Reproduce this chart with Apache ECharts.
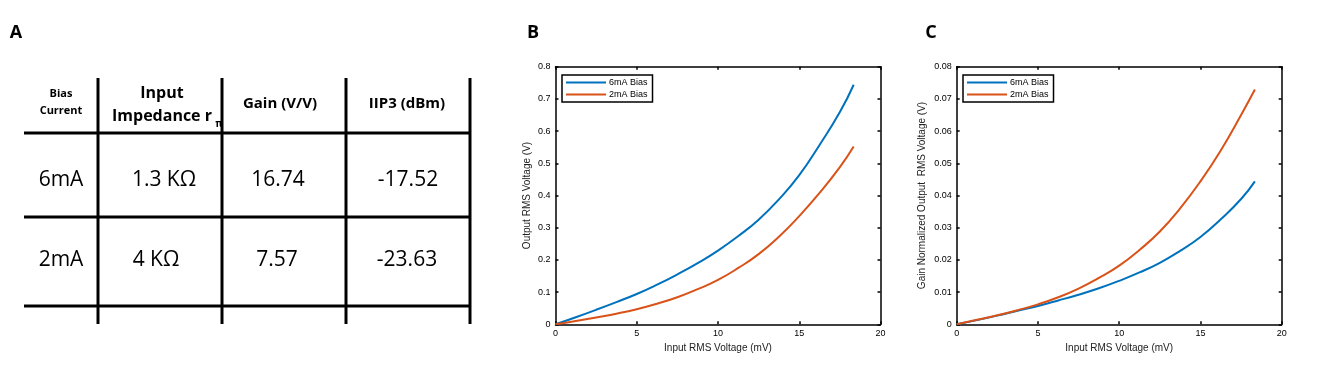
<!DOCTYPE html>
<html>
<head>
<meta charset="utf-8">
<script src="https://cdn.jsdelivr.net/npm/echarts@6/dist/echarts.min.js"></script>
<style>
html, body { margin: 0; padding: 0; background: #fff; }
#fig { width: 1318px; height: 374px; }
</style>
</head>
<body>
<div id="fig"></div>
<script>
// table A
var biasCurrents = ['6mA', '2mA'];
var impedances = ['1.3 KΩ', '4 KΩ'];
var gains = ['16.74', '7.57'];
var iip3 = ['-17.52', '-23.63'];

// curves B and C (input in mV)
var inputMv = [0, 1.25, 2.5, 3.75, 5, 6.25, 7.5, 8.75, 10, 11.25, 12.5, 13.75, 15, 16.25, 17.5, 18.35];
var out6mA = [0, 0.022, 0.045, 0.069, 0.094, 0.123, 0.155, 0.19, 0.229, 0.274, 0.325, 0.388, 0.463, 0.557, 0.659, 0.744];
var out2mA = [0, 0.010, 0.021, 0.033, 0.047, 0.064, 0.084, 0.109, 0.138, 0.175, 0.218, 0.272, 0.336, 0.408, 0.488, 0.552];
var norm6mA = [0, 0.0013, 0.0027, 0.0042, 0.0057, 0.0074, 0.0092, 0.0112, 0.0135, 0.0161, 0.0191, 0.0228, 0.0271, 0.0326, 0.0389, 0.0444];
var norm2mA = [0, 0.0014, 0.0028, 0.0044, 0.0062, 0.0084, 0.0111, 0.0144, 0.0182, 0.0231, 0.0288, 0.036, 0.0444, 0.054, 0.065, 0.0729];

var BLUE = '#0072BD';
var ORANGE = '#D95319';
var FONT = 'Liberation Sans';
var TFONT = 'Open Sans';

function pairs(ys) {
    var out = [];
    for (var i = 0; i < inputMv.length; i++) {
        out.push([inputMv[i], ys[i]]);
    }
    return out;
}

function xAxes(g, name) {
    return [{
        gridIndex: g, type: 'value', min: 0, max: 20, interval: 5,
        name: name, nameLocation: 'middle', nameGap: 18,
        nameTextStyle: { color: '#222', fontSize: 10, fontFamily: FONT },
        axisLine: { onZero: false, lineStyle: { color: '#000', width: 1.5 } },
        axisTick: { inside: true, length: 3, lineStyle: { color: '#000', width: 1.5 } },
        axisLabel: { margin: 5, color: '#000', fontSize: 9, fontFamily: FONT },
        splitLine: { show: false }
    }, {
        gridIndex: g, type: 'value', min: 0, max: 20, interval: 5, position: 'top',
        axisLine: { onZero: false, lineStyle: { color: '#000', width: 1.5 } },
        axisTick: { inside: true, length: 3, lineStyle: { color: '#000', width: 1.5 } },
        axisLabel: { show: false },
        splitLine: { show: false }
    }];
}

function yAxes(g, max, step, name, gap) {
    return [{
        gridIndex: g, type: 'value', min: 0, max: max, interval: step,
        name: name, nameLocation: 'middle', nameGap: gap,
        nameTextStyle: { color: '#222', fontSize: 10, fontFamily: FONT },
        axisLine: { show: true, onZero: false, lineStyle: { color: '#000', width: 1.5 } },
        axisTick: { show: true, inside: true, length: 3, lineStyle: { color: '#000', width: 1.5 } },
        axisLabel: { margin: 5, color: '#000', fontSize: 9, fontFamily: FONT },
        splitLine: { show: false }
    }, {
        gridIndex: g, type: 'value', min: 0, max: max, interval: step, position: 'right',
        axisLine: { show: true, onZero: false, lineStyle: { color: '#000', width: 1.5 } },
        axisTick: { show: true, inside: true, length: 3, lineStyle: { color: '#000', width: 1.5 } },
        axisLabel: { show: false },
        splitLine: { show: false }
    }];
}

function legendAt(left) {
    return {
        left: left, top: 75, orient: 'vertical',
        data: ['6mA Bias', '2mA Bias'],
        icon: 'rect',
        itemWidth: 40, itemHeight: 2, itemGap: 1,
        padding: [2, 5, 2, 4],
        borderColor: '#000', borderWidth: 1.5,
        backgroundColor: '#fff',
        textStyle: { fontSize: 9, lineHeight: 11, fontFamily: FONT, color: '#000', padding: [0, 0, 0, -2] }
    };
}

function lineSeries(name, color, xi, yi, ys) {
    return {
        name: name, type: 'line', xAxisIndex: xi, yAxisIndex: yi,
        data: pairs(ys), smooth: true, symbol: 'none', showSymbol: false,
        lineStyle: { color: color, width: 2 }, itemStyle: { color: color },
        silent: true, animation: false
    };
}

// table drawn with graphic elements
var tableGraphic = [];
var colX = [98, 222, 346, 470];
var rowY = [133, 217, 306];
colX.forEach(function (x) {
    tableGraphic.push({ type: 'line', shape: { x1: x, y1: 78, x2: x, y2: 324 }, style: { stroke: '#000', lineWidth: 3 } });
});
rowY.forEach(function (y) {
    tableGraphic.push({ type: 'line', shape: { x1: 24, y1: y, x2: 471, y2: y }, style: { stroke: '#000', lineWidth: 3 } });
});
function txt(s, x, y, size, weight) {
    return { type: 'text', x: x, y: y, style: { text: s, fontSize: size, fontWeight: weight || 'normal', fontFamily: TFONT, fill: '#000', align: 'center', verticalAlign: 'middle' } };
}
tableGraphic.push(txt('Bias', 61, 94, 11, 'bold'));
tableGraphic.push(txt('Current', 61, 111, 11, 'bold'));
tableGraphic.push(txt('Input', 162, 93, 16, 'bold'));
tableGraphic.push(txt('Impedance r', 162, 116, 16, 'bold'));
tableGraphic.push(txt('π', 219, 124, 10, 'bold'));
tableGraphic.push(txt('Gain (V/V)', 280, 104, 15, 'bold'));
tableGraphic.push(txt('IIP3 (dBm)', 407, 104, 15, 'bold'));
var rowMid = [180, 260];
var cellX = [[61, 164, 278, 408], [61, 156, 277, 407]];
for (var r = 0; r < 2; r++) {
    var cells = [biasCurrents[r], impedances[r], gains[r], iip3[r]];
    for (var c = 0; c < 4; c++) {
        tableGraphic.push(txt(cells[c], cellX[r][c], rowMid[r], 21));
    }
}
tableGraphic.push(txt('A', 16, 33, 18, 'bold'));
tableGraphic.push(txt('B', 533, 33, 18, 'bold'));
tableGraphic.push(txt('C', 931, 33, 18, 'bold'));

var chart = echarts.init(document.getElementById('fig'), null, { renderer: 'canvas' });
var option = {
    backgroundColor: '#fff',
    animation: false,
    grid: [
        { left: 555.5, top: 66.7, width: 325, height: 257.6 },
        { left: 956.7, top: 66.7, width: 325, height: 257.6 }
    ],
    legend: [legendAt(562), legendAt(963)],
    xAxis: xAxes(0, 'Input RMS Voltage (mV)').concat(xAxes(1, 'Input RMS Voltage (mV)')),
    yAxis: yAxes(0, 0.8, 0.1, 'Output RMS Voltage (V)', 23)
        .concat(yAxes(1, 0.08, 0.01, 'Gain Normalized Output  RMS Voltage (V)', 29)),
    series: [
        lineSeries('6mA Bias', BLUE, 0, 0, out6mA),
        lineSeries('2mA Bias', ORANGE, 0, 0, out2mA),
        lineSeries('6mA Bias', BLUE, 2, 2, norm6mA),
        lineSeries('2mA Bias', ORANGE, 2, 2, norm2mA)
    ],
    graphic: tableGraphic
};
chart.setOption(option);
</script>
</body>
</html>
